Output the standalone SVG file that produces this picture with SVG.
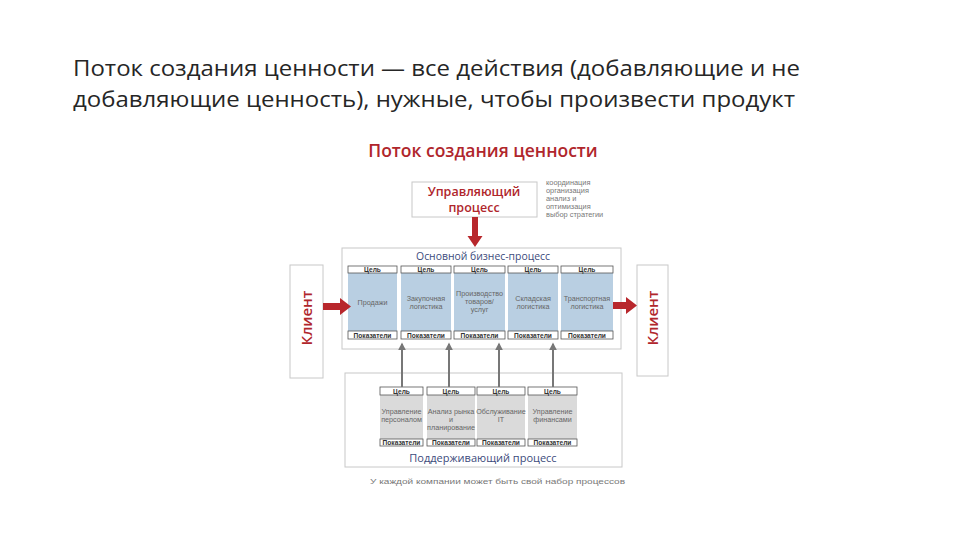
<svg xmlns="http://www.w3.org/2000/svg" width="960" height="540" viewBox="0 0 960 540">
<defs>
<style>
.h{font-family:"Open Sans","Liberation Sans",sans-serif;font-size:22px;fill:#262626}
.t{font-family:"Open Sans","Liberation Sans",sans-serif;font-weight:600;fill:#b0262c}
.blue{font-family:"Open Sans","Liberation Sans",sans-serif;fill:#3c4b7c;text-anchor:middle}
.s{font-family:"Liberation Sans",sans-serif;font-size:7.2px;fill:#666;text-anchor:middle}
.lab{font-family:"Liberation Sans",sans-serif;font-size:6.6px;font-weight:bold;fill:#333;text-anchor:middle}
.note{font-family:"Liberation Sans",sans-serif;font-size:7.4px;fill:#777}
.frame{fill:#fff;stroke:#c8c8c8;stroke-width:1}
.cap{fill:#fff;stroke:#555;stroke-width:0.8}
.bb{fill:#b9cfe2}
.gb{fill:#dadada}
.red{fill:#b8272c}
.up{stroke:#777;stroke-width:2;fill:none;marker-end:url(#ah)}
</style>
<marker id="ah" viewBox="0 0 10 10" refX="8" refY="5" markerWidth="4" markerHeight="4" orient="auto">
<path d="M0,0 L10,5 L0,10 z" fill="#777"/>
</marker>
</defs>
<rect width="960" height="540" fill="#fff"/>

<g id="heading">
<text class="h" x="73" y="76" textLength="727" lengthAdjust="spacingAndGlyphs">Поток создания ценности — все действия (добавляющие и не</text>
<text class="h" x="73" y="107" textLength="722" lengthAdjust="spacingAndGlyphs">добавляющие ценность), нужные, чтобы произвести продукт</text>
</g>

<g id="diagram-title">
<text class="t" x="483" y="157" font-size="17.5" text-anchor="middle">Поток создания ценности</text>
</g>

<g id="control">
<rect class="frame" x="412" y="182" width="125" height="35"/>
<text class="t" x="474" y="196" font-size="12.5" text-anchor="middle">Управляющий</text>
<text class="t" x="474" y="212" font-size="12.5" text-anchor="middle">процесс</text>
</g>

<g id="control-note">
<text class="note" x="546" y="185">координация</text>
<text class="note" x="546" y="193">организация</text>
<text class="note" x="546" y="201">анализ и</text>
<text class="note" x="546" y="209">оптимизация</text>
<text class="note" x="546" y="217">выбор стратегии</text>
</g>

<g id="client-left">
<rect class="frame" x="290" y="265" width="33" height="113"/>
<text class="t" font-size="15" text-anchor="middle" transform="translate(312,318) rotate(-90)">Клиент</text>
</g>

<g id="client-right">
<rect class="frame" x="637" y="265" width="31" height="111"/>
<text class="t" font-size="15" text-anchor="middle" transform="translate(658,318) rotate(-90)">Клиент</text>
</g>

<g id="main-process">
<rect class="frame" x="342" y="248" width="279" height="101"/>
<text class="blue" x="483" y="260" font-size="10.4">Основной бизнес-процесс</text>
</g>

<g id="m1">
<rect class="bb" x="348" y="273" width="49" height="58"/>
<rect class="cap" x="348" y="266" width="49" height="7"/>
<text class="lab" x="372.5" y="272">Цель</text>
<text class="s" x="372.5" y="305">Продажи</text>
<rect class="cap" x="348" y="331" width="49" height="8"/>
<text class="lab" x="372.5" y="337.5">Показатели</text>
</g>
<g id="m2">
<rect class="bb" x="401" y="273" width="50" height="58"/>
<rect class="cap" x="401" y="266" width="50" height="7"/>
<text class="lab" x="426" y="272">Цель</text>
<text class="s" x="426" y="301">Закупочная</text>
<text class="s" x="426" y="309">логистика</text>
<rect class="cap" x="401" y="331" width="50" height="8"/>
<text class="lab" x="426" y="337.5">Показатели</text>
</g>
<g id="m3">
<rect class="bb" x="454" y="273" width="51" height="58"/>
<rect class="cap" x="454" y="266" width="51" height="7"/>
<text class="lab" x="479.5" y="272">Цель</text>
<text class="s" x="479.5" y="296">Производство</text>
<text class="s" x="479.5" y="304">товаров/</text>
<text class="s" x="479.5" y="312">услуг</text>
<rect class="cap" x="454" y="331" width="51" height="8"/>
<text class="lab" x="479.5" y="337.5">Показатели</text>
</g>
<g id="m4">
<rect class="bb" x="508" y="273" width="50" height="58"/>
<rect class="cap" x="508" y="266" width="50" height="7"/>
<text class="lab" x="533" y="272">Цель</text>
<text class="s" x="533" y="301">Складская</text>
<text class="s" x="533" y="309">логистика</text>
<rect class="cap" x="508" y="331" width="50" height="8"/>
<text class="lab" x="533" y="337.5">Показатели</text>
</g>
<g id="m5">
<rect class="bb" x="561" y="273" width="52" height="58"/>
<rect class="cap" x="561" y="266" width="52" height="7"/>
<text class="lab" x="587" y="272">Цель</text>
<text class="s" x="587" y="301">Транспортная</text>
<text class="s" x="587" y="309">логистика</text>
<rect class="cap" x="561" y="331" width="52" height="8"/>
<text class="lab" x="587" y="337.5">Показатели</text>
</g>

<g id="support-process">
<rect class="frame" x="345" y="373" width="277" height="94"/>
<text class="blue" x="483" y="462" font-size="11">Поддерживающий процесс</text>
</g>

<g id="s1">
<rect class="gb" x="380" y="395" width="43" height="44"/>
<rect class="cap" x="380" y="387" width="43" height="8"/>
<text class="lab" x="401.5" y="393.5">Цель</text>
<text class="s" x="401.5" y="414">Управление</text>
<text class="s" x="401.5" y="422">персоналом</text>
<rect class="cap" x="380" y="439" width="43" height="7"/>
<text class="lab" x="401.5" y="445">Показатели</text>
</g>
<g id="s2">
<rect class="gb" x="427" y="395" width="48" height="44"/>
<rect class="cap" x="427" y="387" width="48" height="8"/>
<text class="lab" x="451" y="393.5">Цель</text>
<text class="s" x="451" y="414">Анализ рынка</text>
<text class="s" x="451" y="422">и</text>
<text class="s" x="451" y="430">планирование</text>
<rect class="cap" x="427" y="439" width="48" height="7"/>
<text class="lab" x="451" y="445">Показатели</text>
</g>
<g id="s3">
<rect class="gb" x="477" y="395" width="48" height="44"/>
<rect class="cap" x="477" y="387" width="48" height="8"/>
<text class="lab" x="501" y="393.5">Цель</text>
<text class="s" x="501" y="414">Обслуживание</text>
<text class="s" x="501" y="422">IT</text>
<rect class="cap" x="477" y="439" width="48" height="7"/>
<text class="lab" x="501" y="445">Показатели</text>
</g>
<g id="s4">
<rect class="gb" x="528" y="395" width="49" height="44"/>
<rect class="cap" x="528" y="387" width="49" height="8"/>
<text class="lab" x="552.5" y="393.5">Цель</text>
<text class="s" x="552.5" y="414">Управление</text>
<text class="s" x="552.5" y="422">финансами</text>
<rect class="cap" x="528" y="439" width="49" height="7"/>
<text class="lab" x="552.5" y="445">Показатели</text>
</g>

<g id="footer">
<text class="note" x="370" y="484" font-size="10" fill="#555" textLength="255" lengthAdjust="spacingAndGlyphs">У каждой компании может быть свой набор процессов</text>
</g>

<g id="connectors">
<path class="red" d="M472,217 H478 V236 H482.5 L475,247 L467.5,236 H472 Z"/>
<path class="red" d="M323,303 H340 V298 L351,306.5 L340,315 V310 H323 Z"/>
<path class="red" d="M613,302 H626 V297 L637,305.5 L626,314 V309 H613 Z"/>
<line class="up" x1="402" y1="387" x2="402" y2="344"/>
<line class="up" x1="449" y1="387" x2="449" y2="344"/>
<line class="up" x1="499" y1="387" x2="499" y2="344"/>
<line class="up" x1="553" y1="387" x2="553" y2="344"/>
</g>
</svg>
